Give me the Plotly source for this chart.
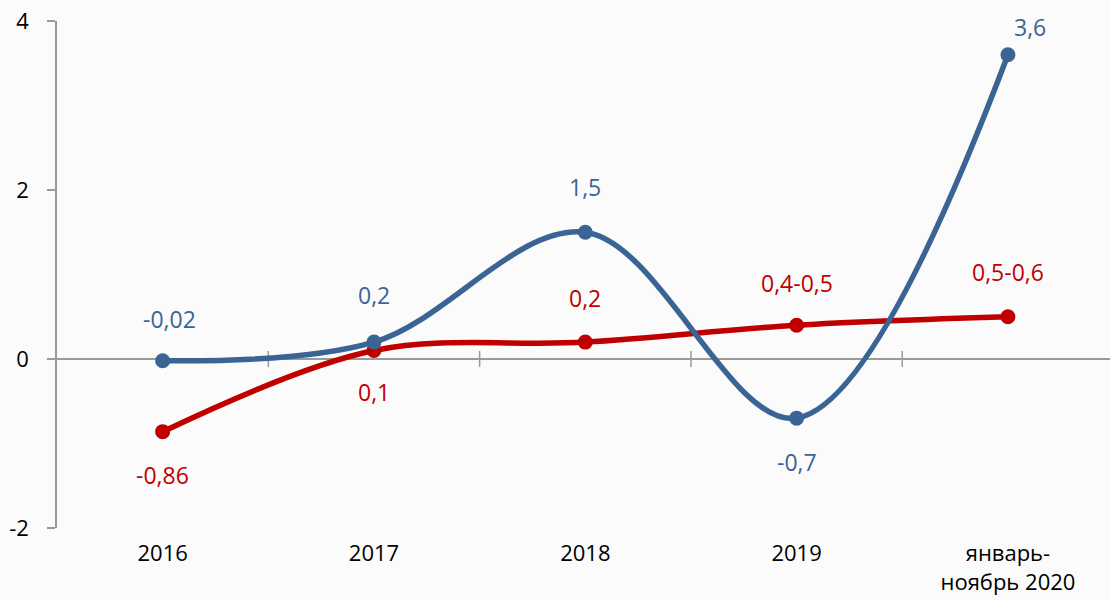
import plotly.graph_objects as go

categories = ["2016", "2017", "2018", "2019", "январь-<br>ноябрь 2020"]
blue_values = [-0.02, 0.2, 1.5, -0.7, 3.6]
red_values = [-0.86, 0.1, 0.2, 0.4, 0.5]
blue_labels = ["-0,02", "0,2", "1,5", "-0,7", "3,6"]
red_labels = ["-0,86", "0,1", "0,2", "0,4-0,5", "0,5-0,6"]
blue_label_shift = [(7, 42), (0, 47), (0, 45), (0, -44), (22, 28)]
red_label_shift = [(0, -43), (0, -41), (0, 44), (0, 42), (0, 45)]
y_ticks = [-2, 0, 2, 4]

BLUE = "#3A6494"
RED = "#C00000"
GREY = "#9A9A9A"
FONT = "Open Sans"
FS = 22
FS_LABEL = 23

x_pos = list(range(len(categories)))

fig = go.Figure()
fig.add_trace(go.Scatter(
    x=x_pos, y=red_values, mode="lines+markers",
    line=dict(color=RED, width=5.5, shape="spline", smoothing=1),
    marker=dict(color=RED, size=15), hoverinfo="skip"))
fig.add_trace(go.Scatter(
    x=x_pos, y=blue_values, mode="lines+markers",
    line=dict(color=BLUE, width=5.5, shape="spline", smoothing=1),
    marker=dict(color=BLUE, size=15), hoverinfo="skip"))

annotations = []
for xi, v, t, (dx, dy) in zip(x_pos, blue_values, blue_labels, blue_label_shift):
    annotations.append(dict(x=xi, y=v, text=t, showarrow=False, xshift=dx, yshift=dy,
                            font=dict(color=BLUE, size=FS_LABEL, family=FONT)))
for xi, v, t, (dx, dy) in zip(x_pos, red_values, red_labels, red_label_shift):
    annotations.append(dict(x=xi, y=v, text=t, showarrow=False, xshift=dx, yshift=dy,
                            font=dict(color=RED, size=FS_LABEL, family=FONT)))

shapes = []
for i in range(len(categories) - 1):
    shapes.append(dict(type="line", xref="x", yref="y", x0=i + 0.5, x1=i + 0.5,
                       ysizemode="pixel", yanchor=0, y0=-8, y1=8,
                       line=dict(color=GREY, width=1.5), layer="below"))

fig.update_layout(
    width=1110, height=600,
    margin=dict(l=57, r=0, t=21, b=72, autoexpand=False),
    paper_bgcolor="#FBFBFB", plot_bgcolor="#FBFBFB",
    showlegend=False,
    font=dict(family=FONT, size=FS, color="#000000"),
    annotations=annotations, shapes=shapes,
    xaxis=dict(range=[-0.5, len(categories) - 0.517], tickmode="array",
               tickvals=x_pos, ticktext=categories, showgrid=False,
               zeroline=False, showline=False, ticks="", automargin=False,
               ticklabelstandoff=10, tickfont=dict(size=FS)),
    yaxis=dict(range=[-2, 4], tickmode="array", tickvals=y_ticks,
               ticktext=[str(t) for t in y_ticks], showgrid=False,
               zeroline=True, zerolinecolor=GREY, zerolinewidth=1.5,
               showline=True, linecolor=GREY, linewidth=1.5, automargin=False,
               ticks="outside", ticklen=8, tickcolor=GREY, tickwidth=1.5,
               ticklabelstandoff=14, tickfont=dict(size=FS)),
)

fig.write_html("out.html", config={"displayModeBar": False},
               post_script="document.body.style.margin='0';document.body.style.background='#FBFBFB';")
